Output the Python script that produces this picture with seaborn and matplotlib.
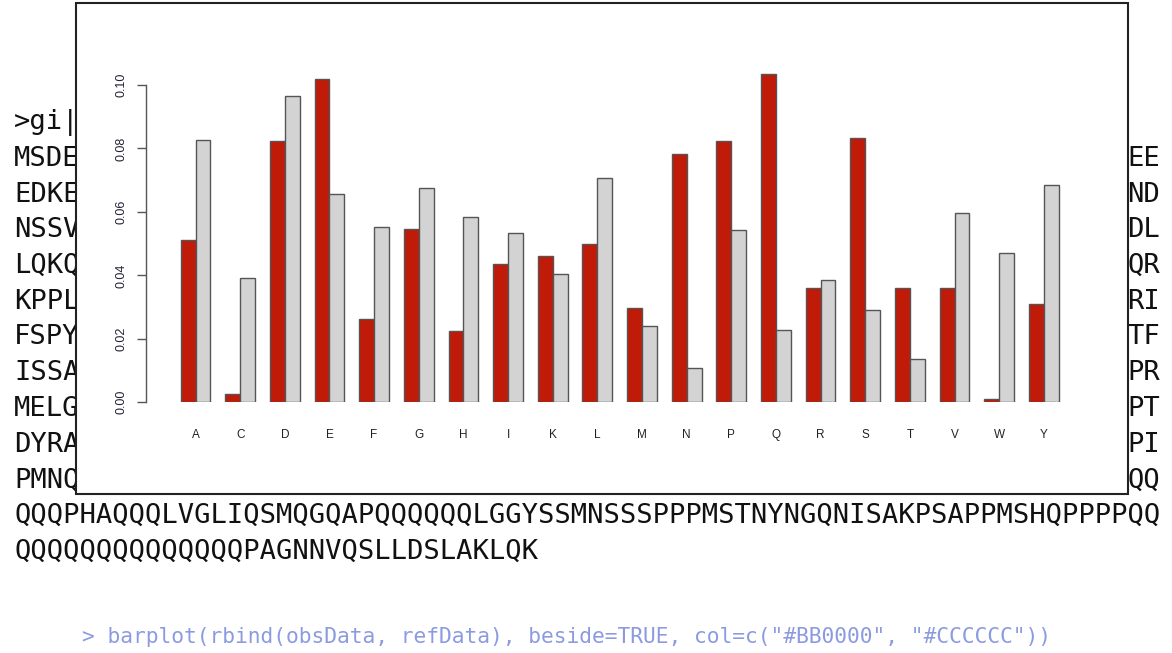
import matplotlib
matplotlib.use("Agg")
import matplotlib.pyplot as plt
from matplotlib.patches import Rectangle
import seaborn as sns
import pandas as pd

# ---- data ----
amino_acids = list("ACDEFGHIKLMNPQRSTVWY")
obs_data = [0.0511, 0.0025, 0.0823, 0.1020, 0.0262, 0.0547, 0.0224, 0.0436, 0.0460, 0.0499,
            0.0298, 0.0783, 0.0823, 0.1034, 0.0360, 0.0834, 0.0360, 0.0360, 0.0011, 0.0311]
ref_data = [0.0826, 0.0393, 0.0966, 0.0656, 0.0552, 0.0674, 0.0583, 0.0534, 0.0405, 0.0708,
            0.0241, 0.0107, 0.0544, 0.0227, 0.0386, 0.0292, 0.0136, 0.0596, 0.0471, 0.0686]
y_ticks = [0.00, 0.02, 0.04, 0.06, 0.08, 0.10]
y_tick_labels = ["0.00", "0.02", "0.04", "0.06", "0.08", "0.10"]

left_fragments = [">gi|", "MSDE", "EDKE", "NSSV", "LQKQ", "KPPL", "FSPY", "ISSA", "MELG", "DYRA", "PMNQ"]
right_fragments = ["", "EE", "ND", "DL", "QR", "RI", "TF", "PR", "PT", "PI", "QQ"]
full_lines = ["QQQPHAQQQLVGLIQSMQGQAPQQQQQQLGGYSSMNSSSPPPMSTNYNGQNISAKPSAPPMSHQPPPPQQ",
              "QQQQQQQQQQQQQQPAGNNVQSLLDSLAKLQK"]
code_line = '> barplot(rbind(obsData, refData), beside=TRUE, col=c("#BB0000", "#CCCCCC"))'

df = pd.DataFrame({
    "aa": amino_acids * 2,
    "freq": obs_data + ref_data,
    "series": ["obs"] * len(amino_acids) + ["ref"] * len(amino_acids),
})

sns.set_style("white")
plt.rcParams["font.family"] = ["Liberation Sans", "DejaVu Sans"]

W, H = 1172, 653
fig = plt.figure(figsize=(W / 100, H / 100), dpi=100)
fig.patch.set_facecolor("white")

def fx(px):
    return px / W

def fy(py):
    return 1 - py / H

# background slide text (monospace)
mono = "DejaVu Sans Mono"
char_w = 16.37
x0 = 14
line_y0 = 123
line_dy = 35.75
for i, frag in enumerate(left_fragments):
    y = line_y0 + i * line_dy
    fig.text(fx(x0), fy(y), frag, family=mono, fontsize=19.5, va="center", ha="left",
             color="#111111", zorder=2)
    if right_fragments[i]:
        fig.text(fx(x0 + 68 * char_w), fy(y), right_fragments[i], family=mono, fontsize=19.5,
                 va="center", ha="left", color="#111111", zorder=2)
for j, line in enumerate(full_lines):
    y = line_y0 + (len(left_fragments) + j) * line_dy
    fig.text(fx(x0), fy(y), line, family=mono, fontsize=19.5, va="center", ha="left",
             color="#111111", zorder=2)

fig.text(fx(82), fy(637), code_line, family=mono, fontsize=15.3, va="center", ha="left",
         color="#8C9BE0", zorder=2)

# white chart box
box = Rectangle((fx(76), fy(494)), fx(1128) - fx(76), fy(3) - fy(494),
                transform=fig.transFigure, facecolor="white", edgecolor="#222222",
                linewidth=1.5, zorder=5)
fig.add_artist(box)

# chart axes
ax_left, ax_right = 146, 1080
ax_bottom, ax_top = 402.3, 53.3
ax = fig.add_axes([fx(ax_left), fy(ax_bottom), (ax_right - ax_left) / W, (ax_bottom - ax_top) / H])
ax.set_zorder(10)
ax.patch.set_alpha(0)

sns.barplot(data=df, x="aa", y="freq", hue="series", palette=["#C01A08", "#D3D3D3"],
            saturation=1, width=2 / 3, edgecolor="#555555", linewidth=1.0,
            legend=False, ax=ax, errorbar=None)

pitch = 44.65
c0 = 195.5
ax.set_xlim((ax_left - c0) / pitch, (ax_right - c0) / pitch)
ax.set_ylim(0, 0.11)

for s in ["top", "right", "bottom"]:
    ax.spines[s].set_visible(False)
ax.spines["left"].set_bounds(0, 0.10)
ax.spines["left"].set_color("#555555")
ax.spines["left"].set_linewidth(1.0)

ax.set_yticks(y_ticks)
ax.set_yticklabels(y_tick_labels, rotation=90, va="center", fontsize=9, color="#222233")
ax.tick_params(axis="y", length=6.5, width=1.0, color="#555555", pad=7, left=True)
ax.tick_params(axis="x", length=0, pad=19, labelsize=8.5, labelcolor="#222222")
ax.set_xlabel("")
ax.set_ylabel("")
ax.grid(False)

fig.savefig("out.png", dpi=100)
